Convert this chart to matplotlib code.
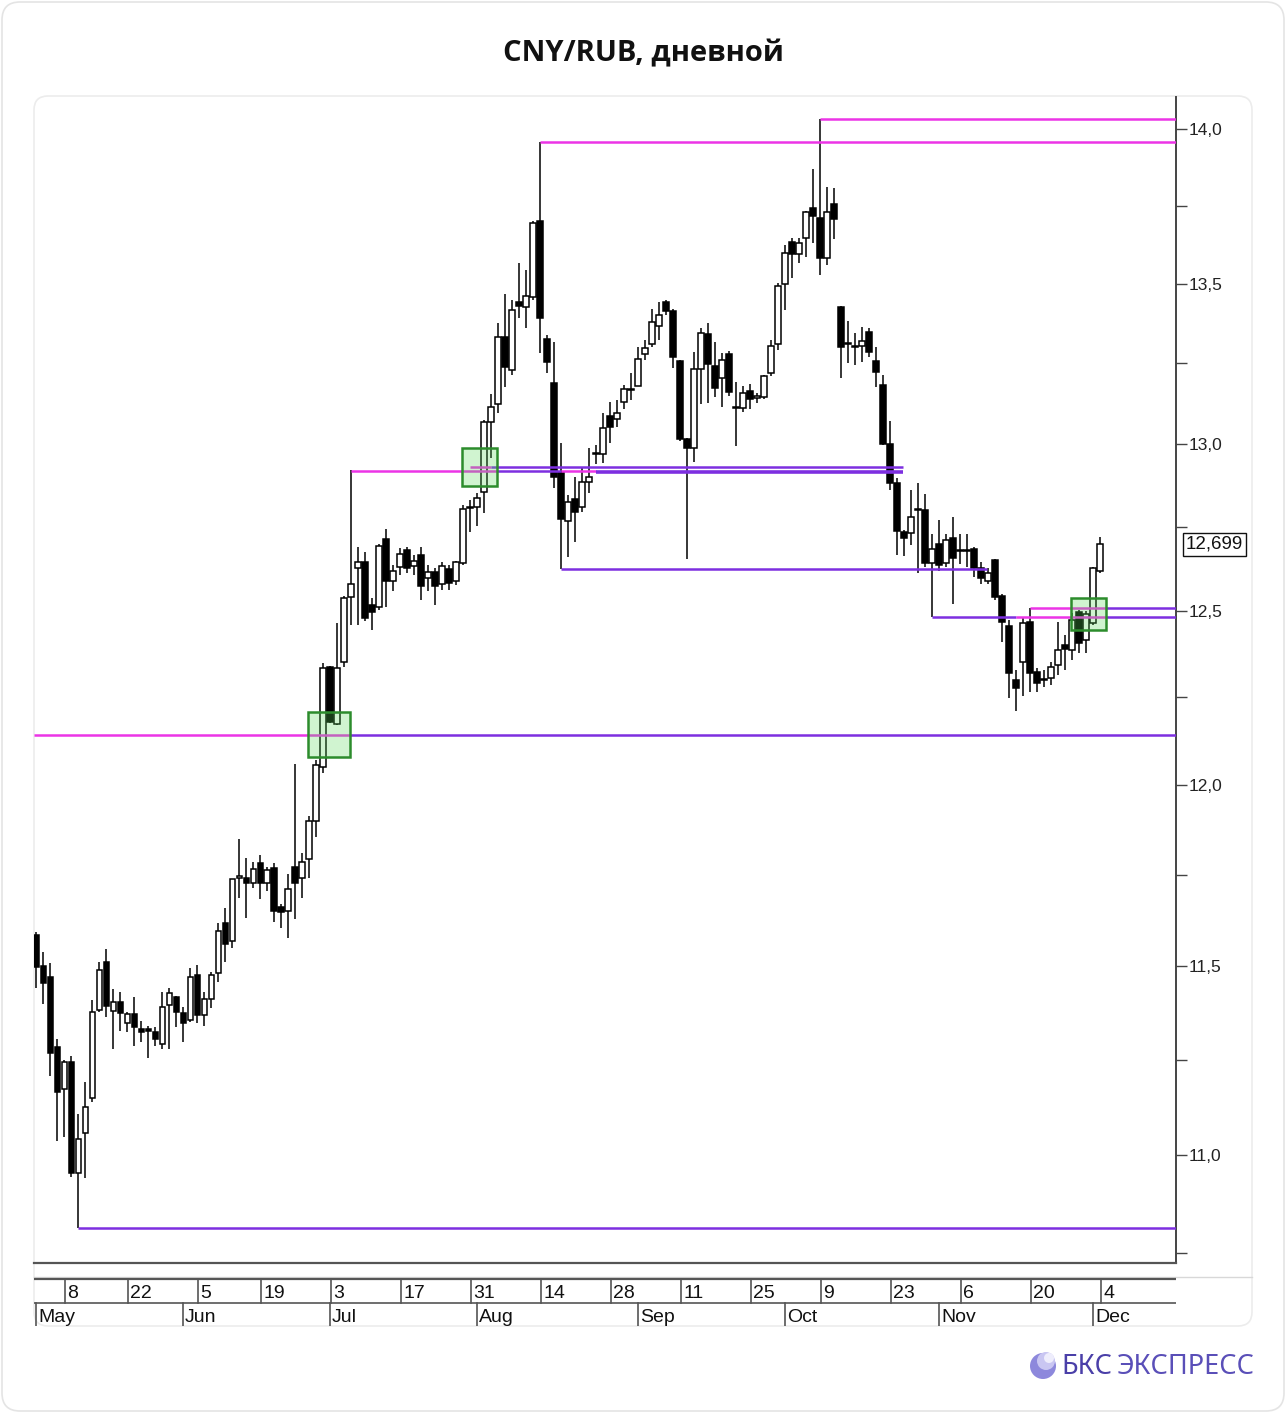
import numpy as np
import pandas as pd
import matplotlib
matplotlib.use('Agg')
import matplotlib.pyplot as plt
from matplotlib.patches import Rectangle, FancyBboxPatch, Circle
from matplotlib.ticker import FixedLocator, NullFormatter
import matplotlib.transforms as mtransforms

# CNY/RUB, дневные свечи, 02.05.2023 - 04.12.2023
days = pd.bdate_range('2023-05-02', '2023-12-04')
days = days[~days.isin(pd.to_datetime(['2023-05-09', '2023-06-12']))]

opens = [11.585, 11.500, 11.470, 11.283, 11.172, 11.243, 10.954, 11.058, 11.149, 11.382,
         11.511, 11.380, 11.404, 11.348, 11.372, 11.332, 11.329, 11.324, 11.291, 11.396,
         11.417, 11.374, 11.356, 11.476, 11.369, 11.412, 11.481, 11.617, 11.568, 11.741,
         11.741, 11.727, 11.782, 11.727, 11.768, 11.662, 11.651, 11.771, 11.741, 11.793,
         11.900, 12.051, 12.338, 12.173, 12.352, 12.541, 12.627, 12.645, 12.518, 12.512,
         12.713, 12.589, 12.630, 12.680, 12.633, 12.666, 12.598, 12.615, 12.580, 12.624,
         12.589, 12.642, 12.809, 12.809, 12.855, 13.068, 13.124, 13.333, 13.230, 13.443,
         13.428, 13.459, 13.700, 13.327, 13.189, 12.915, 12.767, 12.833, 12.809, 12.885,
         12.970, 12.970, 13.087, 13.078, 13.130, 13.168, 13.180, 13.280, 13.311, 13.368,
         13.443, 13.415, 13.258, 13.018, 12.988, 13.233, 13.343, 13.242, 13.205, 13.280,
         13.115, 13.112, 13.165, 13.144, 13.146, 13.220, 13.311, 13.500, 13.634, 13.596,
         13.647, 13.742, 13.710, 13.583, 13.755, 13.428, 13.309, 13.303, 13.305, 13.349,
         13.258, 13.183, 13.000, 12.882, 12.734, 12.731, 12.800, 12.800, 12.642, 12.698,
         12.642, 12.716, 12.677, 12.680, 12.683, 12.627, 12.589, 12.651, 12.544, 12.456,
         12.299, 12.352, 12.468, 12.323, 12.300, 12.305, 12.343, 12.401, 12.387, 12.497,
         12.416, 12.465, 12.618]
highs = [11.593, 11.538, 11.508, 11.305, 11.249, 11.259, 11.107, 11.191, 11.409, 11.511,
         11.546, 11.438, 11.430, 11.377, 11.417, 11.353, 11.340, 11.337, 11.430, 11.441,
         11.420, 11.390, 11.495, 11.503, 11.430, 11.484, 11.617, 11.659, 11.738, 11.849,
         11.796, 11.785, 11.805, 11.771, 11.782, 11.670, 11.752, 12.060, 11.810, 11.914,
         12.071, 12.349, 12.340, 12.465, 12.545, 12.921, 12.690, 12.675, 12.539, 12.700,
         12.743, 12.636, 12.687, 12.690, 12.666, 12.690, 12.636, 12.627, 12.645, 12.636,
         12.650, 12.815, 12.830, 12.852, 13.075, 13.155, 13.377, 13.469, 13.450, 13.566,
         13.544, 13.700, 13.957, 13.340, 13.318, 13.003, 12.845, 12.900, 12.930, 12.988,
         12.997, 13.096, 13.130, 13.136, 13.183, 13.220, 13.302, 13.324, 13.420, 13.443,
         13.450, 13.420, 13.260, 13.020, 13.286, 13.362, 13.377, 13.318, 13.283, 13.290,
         13.192, 13.180, 13.187, 13.159, 13.215, 13.324, 13.503, 13.625, 13.647, 13.647,
         13.733, 13.868, 14.033, 13.810, 13.806, 13.430, 13.383, 13.346, 13.365, 13.360,
         13.300, 13.214, 13.071, 12.897, 12.740, 12.861, 12.882, 12.850, 12.730, 12.770,
         12.730, 12.779, 12.730, 12.730, 12.690, 12.645, 12.627, 12.654, 12.550, 12.474,
         12.330, 12.480, 12.509, 12.334, 12.330, 12.352, 12.468, 12.430, 12.494, 12.503,
         12.500, 12.630, 12.720]
lows = [11.441, 11.398, 11.207, 11.037, 11.047, 10.944, 10.813, 10.941, 11.139, 11.377,
        11.364, 11.278, 11.326, 11.324, 11.286, 11.297, 11.254, 11.286, 11.278, 11.278,
        11.337, 11.297, 11.350, 11.348, 11.340, 11.388, 11.457, 11.511, 11.549, 11.686,
        11.631, 11.713, 11.683, 11.705, 11.620, 11.604, 11.577, 11.628, 11.686, 11.741,
        11.855, 12.034, 12.176, 12.170, 12.337, 12.459, 12.459, 12.473, 12.445, 12.503,
        12.512, 12.560, 12.607, 12.612, 12.607, 12.533, 12.560, 12.518, 12.562, 12.562,
        12.577, 12.636, 12.734, 12.752, 12.791, 12.960, 13.096, 13.177, 13.214, 13.393,
        13.362, 13.450, 13.283, 13.220, 12.867, 12.624, 12.660, 12.704, 12.794, 12.852,
        12.940, 12.942, 13.003, 13.053, 13.109, 13.136, 13.180, 13.261, 13.300, 13.324,
        13.400, 13.236, 13.012, 12.654, 12.945, 13.124, 13.127, 13.146, 13.115, 13.150,
        12.995, 13.100, 13.109, 13.127, 13.140, 13.210, 13.292, 13.418, 13.519, 13.567,
        13.586, 13.631, 13.528, 13.560, 13.644, 13.206, 13.252, 13.245, 13.255, 13.270,
        13.177, 12.997, 12.861, 12.666, 12.663, 12.696, 12.612, 12.630, 12.483, 12.620,
        12.630, 12.521, 12.640, 12.630, 12.600, 12.580, 12.580, 12.533, 12.410, 12.247,
        12.210, 12.253, 12.265, 12.265, 12.280, 12.285, 12.314, 12.329, 12.358, 12.378,
        12.378, 12.460, 12.612]
closes = [11.497, 11.455, 11.267, 11.165, 11.243, 10.954, 11.042, 11.126, 11.377, 11.489,
          11.393, 11.404, 11.374, 11.372, 11.337, 11.324, 11.326, 11.305, 11.390, 11.428,
          11.377, 11.348, 11.471, 11.369, 11.412, 11.476, 11.595, 11.560, 11.738, 11.743,
          11.727, 11.766, 11.727, 11.763, 11.651, 11.648, 11.710, 11.727, 11.785, 11.900,
          12.057, 12.334, 12.179, 12.334, 12.539, 12.580, 12.645, 12.479, 12.497, 12.692,
          12.589, 12.618, 12.671, 12.627, 12.648, 12.574, 12.615, 12.574, 12.633, 12.583,
          12.645, 12.803, 12.806, 12.836, 13.068, 13.115, 13.333, 13.239, 13.418, 13.431,
          13.462, 13.695, 13.392, 13.253, 12.900, 12.773, 12.824, 12.794, 12.885, 12.900,
          12.972, 13.050, 13.053, 13.096, 13.171, 13.172, 13.264, 13.299, 13.380, 13.402,
          13.415, 13.270, 13.018, 12.988, 13.233, 13.346, 13.248, 13.173, 13.261, 13.162,
          13.112, 13.159, 13.140, 13.146, 13.211, 13.305, 13.494, 13.599, 13.596, 13.631,
          13.730, 13.717, 13.583, 13.730, 13.707, 13.300, 13.312, 13.300, 13.321, 13.286,
          13.223, 13.000, 12.882, 12.737, 12.716, 12.779, 12.803, 12.642, 12.683, 12.636,
          12.710, 12.657, 12.680, 12.677, 12.627, 12.598, 12.613, 12.541, 12.468, 12.320,
          12.276, 12.465, 12.320, 12.291, 12.303, 12.337, 12.387, 12.390, 12.474, 12.407,
          12.491, 12.627, 12.698]

# уровни: цена, откуда, докуда, цвет (m - сопротивление, p - поддержка)
# '+' после даты - правый край свечи
level_price = [14.033, 13.957, 12.142, 12.142, 10.813,
               12.919, 12.919, 12.919, 12.917, 12.932, 12.932,
               12.624, 12.483, 12.483, 12.483, 12.509, 12.509]
level_from = ['2023-10-09', '2023-08-14', None, '2023-07-05+', '2023-05-11',
              '2023-07-06', '2023-08-03+', '2023-08-17', '2023-08-24', '2023-07-31', '2023-08-03',
              '2023-08-17', '2023-10-31', '2023-11-16', '2023-12-04+', '2023-11-20', '2023-12-04+']
level_to = [None, None, '2023-07-05+', None, None,
            '2023-08-03+', '2023-08-17', '2023-08-24', '2023-10-24+', '2023-08-03', '2023-10-24+',
            '2023-11-09+', '2023-11-16', '2023-12-04+', None, '2023-12-04+', None]
level_kind = ['m', 'm', 'm', 'p', 'p',
              'm', 'p', 'm', 'p', 'm', 'p',
              'p', 'p', 'm', 'p', 'm', 'p']
level_lw = [1.8, 1.8, 1.8, 1.8, 1.8,
            1.8, 1.8, 1.8, 2.6, 1.8, 1.8,
            1.8, 1.8, 1.8, 1.8, 1.8, 1.8]

# зоны пробоя
box_from = ['2023-06-28', '2023-07-28', '2023-11-28']
box_to = ['2023-07-05', '2023-08-03', '2023-12-04']
box_low = [12.080, 12.873, 12.445]
box_high = [12.207, 12.988, 12.539]

major_ticks = [11.0, 11.5, 12.0, 12.5, 13.0, 13.5, 14.0]
minor_ticks = [10.75, 11.25, 11.75, 12.25, 12.75, 13.25, 13.75]
last_price = '12,699'

W, H = 1286, 1413
fig = plt.figure(figsize=(W / 100, H / 100), dpi=100)

# фон: карточки
bg = fig.add_axes([0, 0, 1, 1], zorder=-5)
bg.set_xlim(0, W)
bg.set_ylim(H, 0)
bg.axis('off')
bg.add_patch(FancyBboxPatch((2, 2), W - 4, H - 4, boxstyle='round,pad=0,rounding_size=18',
                            facecolor='white', edgecolor='#e4e4e4', lw=1.2))
bg.add_patch(FancyBboxPatch((34, 96), 1252 - 34, 1326 - 96, boxstyle='round,pad=0,rounding_size=14',
                            facecolor='white', edgecolor='#ececec', lw=1.2))
bg.plot([34, 1252], [1277, 1277], color='#d8d8d8', lw=1)
bg.text(643, 54, 'CNY/RUB, дневной', ha='center', va='center', fontsize=21,
        fontweight='bold', family=['Open Sans', 'DejaVu Sans'], color='#111111')

# логотип
bg.add_patch(Circle((1043, 1366), 13, facecolor='#8d88dc', edgecolor='none'))
bg.add_patch(Circle((1046, 1361), 9, facecolor='#c9c6f2', edgecolor='none'))
bg.add_patch(Circle((1049, 1358), 5, facecolor='#eeedfc', edgecolor='none'))
bg.text(1061, 1367, 'БКС', ha='left', va='center', fontsize=19.5, fontweight='bold',
        family=['Noto Sans', 'DejaVu Sans'], color='#4a3fa8')
bg.text(1117, 1367, 'ЭКСПРЕСС', ha='left', va='center', fontsize=19.5,
        family=['Noto Sans', 'DejaVu Sans'], color='#5a4fb8')

# график
ax = fig.add_axes([34 / W, 1 - 1263 / H, (1176 - 34) / W, (1263 - 97) / H])
ax.set_facecolor('none')
ax.set_yscale('log')
ax.set_ylim(10.725, 14.106)
ax.set_xlim(-0.29, 162.86)

x = np.arange(len(days))
o = np.array(opens)
h = np.array(highs)
l = np.array(lows)
c = np.array(closes)
up = c >= o
lo = np.minimum(o, c)
hi = np.maximum(o, c)
hgt = np.maximum(hi - lo, 0.004)

ax.vlines(x, l, h, color='black', lw=1.1, zorder=3)
ax.bar(x[up], hgt[up], bottom=lo[up], width=0.72, facecolor='white', edgecolor='black',
       lw=1.1, zorder=4)
ax.bar(x[~up], hgt[~up], bottom=lo[~up], width=0.72, facecolor='black', edgecolor='black',
       lw=1.1, zorder=4)


def pos(d):
    if d is None:
        return None
    if d.endswith('+'):
        return days.get_loc(pd.Timestamp(d[:-1])) + 0.85
    return days.get_loc(pd.Timestamp(d))


colors = {'m': '#ec34e6', 'p': '#7d2fe0'}
for price, d0, d1, kind, lw in zip(level_price, level_from, level_to, level_kind, level_lw):
    x0 = pos(d0)
    x1 = pos(d1)
    if x0 is None:
        x0 = -0.29
    if x1 is None:
        x1 = 162.86
    ax.plot([x0, x1], [price, price], color=colors[kind], lw=lw, zorder=5,
            solid_capstyle='butt')

for d0, d1, b0, b1 in zip(box_from, box_to, box_low, box_high):
    x0 = days.get_loc(pd.Timestamp(d0)) - 0.15
    x1 = days.get_loc(pd.Timestamp(d1)) + 0.85
    ax.add_patch(Rectangle((x0, b0), x1 - x0, b1 - b0, facecolor=(0.35, 0.85, 0.35, 0.28),
                           edgecolor='#2c8c2c', lw=1.8, zorder=6))

for s in ['left', 'top']:
    ax.spines[s].set_visible(False)
ax.spines['bottom'].set_color('#555555')
ax.spines['bottom'].set_linewidth(1.6)
ax.spines['right'].set_color('#444444')
ax.spines['right'].set_linewidth(1.4)
ax.xaxis.set_visible(False)
ax.yaxis.tick_right()
ax.yaxis.set_major_locator(FixedLocator(major_ticks))
ax.yaxis.set_minor_locator(FixedLocator(minor_ticks))
ax.yaxis.set_minor_formatter(NullFormatter())
ax.set_yticklabels([('%.1f' % t).replace('.', ',') for t in major_ticks])
ax.tick_params(axis='y', which='both', direction='out', length=8, width=1, color='#444444',
               labelsize=12.5, labelcolor='#222222', pad=1)
for t in ax.get_yticklabels():
    t.set_family(['Liberation Sans', 'DejaVu Sans'])

trans = mtransforms.blended_transform_factory(ax.transAxes, ax.transData)
ax.text(1.0085, closes[-1], last_price, transform=trans, ha='left', va='center',
        fontsize=13.5, family=['Liberation Sans', 'DejaVu Sans'], color='#111111',
        bbox=dict(boxstyle='square,pad=0.14', facecolor='white', edgecolor='#111111', lw=1))

# шкала дат
dax = fig.add_axes([34 / W, 1 - 1326 / H, (1176 - 34) / W, (1326 - 1277) / H])
dax.set_xlim(-0.29, 162.86)
dax.set_ylim(49, 0)
dax.axis('off')
dax.plot([-0.29, 162.86], [2, 2], color='#555555', lw=1.6)
dax.plot([-0.29, 162.86], [26, 26], color='#555555', lw=1.2)

date_font = ['Liberation Sans', 'DejaVu Sans']
mondays = pd.date_range('2023-05-08', '2023-12-04', freq='14D')
for d in mondays:
    i = days.get_loc(d) + 0.15
    dax.plot([i, i], [2, 26], color='#555555', lw=1.2)
    dax.text(i + 0.3, 16, str(d.day), ha='left', va='center', fontsize=14,
             family=date_font, color='#111111')

months = ['May', 'Jun', 'Jul', 'Aug', 'Sep', 'Oct', 'Nov', 'Dec']
month_first = days.to_series().groupby(days.to_period('M')).first()
for name, d in zip(months, month_first):
    i = days.get_loc(d)
    dax.plot([i, i], [26, 49], color='#555555', lw=1.2)
    dax.text(i + 0.3, 40, name, ha='left', va='center', fontsize=14,
             family=date_font, color='#111111')

fig.savefig('out.png', dpi=100)
